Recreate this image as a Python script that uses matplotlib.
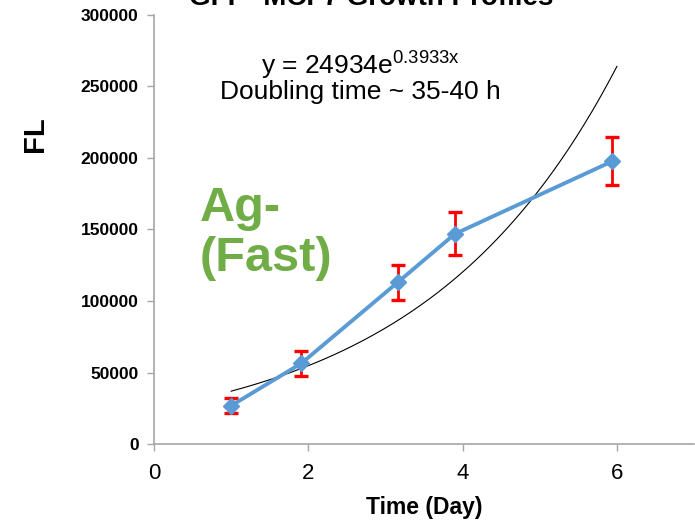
import numpy as np
import matplotlib
matplotlib.use("Agg")
import matplotlib.pyplot as plt

plt.rcParams["font.family"] = ["Liberation Sans", "DejaVu Sans"]

# growth measurements (mean fluorescence and SD per time point)
days = [1.0, 1.91, 3.16, 3.90, 5.94]
fl_mean = [26800, 56400, 113100, 146900, 197700]
fl_sd = [5200, 8500, 12200, 15000, 16700]

# exponential fit y = a * exp(b * x)
fit_a = 24934
fit_b = 0.3933

x_ticks = [0, 2, 4, 6]
y_ticks = [0, 50000, 100000, 150000, 200000, 250000, 300000]

BLUE = "#5B9BD5"
GREEN = "#70AD47"
GRAY = "#A6A6A6"

fig = plt.figure(figsize=(6.95, 5.22), dpi=100)
ax = fig.add_axes([0.2216, 0.1494, 0.7770, 0.8219])

xs = np.linspace(days[0], days[-1] + 0.06, 200)
ax.plot(xs, fit_a * np.exp(fit_b * xs), color="black", linewidth=0.8, zorder=2)

ax.errorbar(days, fl_mean, yerr=fl_sd, fmt="none", ecolor="#FF0000",
            elinewidth=2.0, capsize=4.8, capthick=2.4, zorder=3)
ax.plot(days, fl_mean, color=BLUE, linewidth=2.8, marker="D",
        markersize=8.5, markerfacecolor=BLUE, markeredgecolor=BLUE, zorder=4)

ax.set_xlim(0, 7)
ax.set_ylim(0, 300000)
ax.set_xticks(x_ticks)
ax.set_yticks(y_ticks)
ax.set_xticklabels([str(t) for t in x_ticks], fontsize=16)
ax.set_yticklabels([str(t) for t in y_ticks], fontsize=12.5, fontweight="bold")

for side in ("top", "right"):
    ax.spines[side].set_visible(False)
for side in ("left", "bottom"):
    ax.spines[side].set_color(GRAY)
    ax.spines[side].set_linewidth(1.2)
ax.tick_params(axis="both", colors=GRAY, length=5, width=1.0, direction="out")
ax.tick_params(axis="x", labelcolor="black", pad=9)
ax.tick_params(axis="y", labelcolor="black", pad=6)

ax.set_xlabel("Time (Day)", fontsize=16.5, fontweight="bold", labelpad=8)
ax.set_ylabel("FL", fontsize=21, fontweight="bold")
ax.yaxis.set_label_coords(-0.195, 0.723)

fig.text(0.534, 0.990, "GFP- MCF7 Growth Profiles", ha="center",
         va="baseline", fontsize=20, fontweight="bold")

ax.text(0.383, 0.885, r"y = 24934e$^{\mathregular{0.3933x}}$",
        transform=ax.transAxes, ha="center", va="center", fontsize=19)
ax.text(0.383, 0.82, "Doubling time ~ 35-40 h", transform=ax.transAxes,
        ha="center", va="center", fontsize=19)

ax.text(0.085, 0.403, "Ag-\n(Fast)", transform=ax.transAxes, ha="left",
        va="baseline", fontsize=35, fontweight="bold", color=GREEN,
        linespacing=1.15)

fig.savefig("out.png", dpi=100)
